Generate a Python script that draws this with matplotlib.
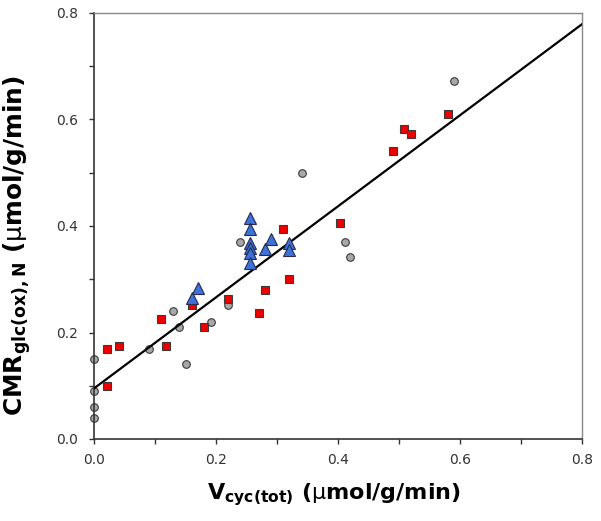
import matplotlib
matplotlib.use("Agg")
import matplotlib.pyplot as plt

plt.rcParams['font.family'] = ['DejaVu Sans']
plt.rcParams['mathtext.fontset'] = 'dejavusans'

# Gray circles
circ_x = [0.0, 0.0, 0.0, 0.0, 0.090, 0.130, 0.139, 0.150, 0.191, 0.220, 0.240, 0.341, 0.411, 0.420, 0.590]
circ_y = [0.151, 0.090, 0.060, 0.039, 0.169, 0.240, 0.211, 0.140, 0.220, 0.252, 0.370, 0.500, 0.370, 0.341, 0.672]

# Red squares
sq_x = [0.021, 0.021, 0.041, 0.110, 0.118, 0.160, 0.180, 0.220, 0.270, 0.281, 0.310, 0.320, 0.403, 0.490, 0.508, 0.520, 0.581]
sq_y = [0.169, 0.100, 0.175, 0.225, 0.175, 0.251, 0.211, 0.262, 0.236, 0.280, 0.395, 0.301, 0.405, 0.541, 0.582, 0.572, 0.610]

# Blue triangles
tri_x = [0.256, 0.256, 0.256, 0.256, 0.256, 0.256, 0.280, 0.290, 0.320, 0.320, 0.160, 0.170]
tri_y = [0.415, 0.394, 0.368, 0.359, 0.350, 0.331, 0.356, 0.376, 0.369, 0.354, 0.265, 0.283]

# Regression line endpoints
line_x = [0.0, 0.8]
line_y = [0.095, 0.779]

tick_vals = [0.0, 0.2, 0.4, 0.6, 0.8]
tick_labels = ['0.0', '0.2', '0.4', '0.6', '0.8']
minor_vals = [0.1, 0.3, 0.5, 0.7]

fig = plt.figure(figsize=(6.01, 5.21), dpi=100)
ax = fig.add_axes([94/601, 82/521, 488/601, 426/521])

ax.plot(circ_x, circ_y, 'o', ms=5.5, mfc='#a8a8a8', mec='#3a3a3a', mew=0.8, zorder=2, clip_on=False)
ax.plot(line_x, line_y, '-', color='black', lw=1.6, zorder=3)
ax.plot(sq_x, sq_y, 's', ms=6.2, mfc='#ee0000', mec='#3a3a3a', mew=0.8, zorder=4, clip_on=False)
ax.plot(tri_x, tri_y, '^', ms=8.5, mfc='#3b72dc', mec='#2a2a4a', mew=0.8, zorder=5, clip_on=False)

ax.set_xlim(0, 0.8)
ax.set_ylim(0, 0.8)
ax.set_xticks(tick_vals)
ax.set_yticks(tick_vals)
ax.set_xticklabels(tick_labels)
ax.set_yticklabels(tick_labels)
ax.set_xticks(minor_vals, minor=True)
ax.set_yticks(minor_vals, minor=True)
ax.tick_params(which='both', direction='out', length=3.8, width=1, color='#333333',
               labelsize=10, labelcolor='#333333')
ax.tick_params(axis='x', which='both', pad=6.5)
ax.tick_params(axis='y', which='both', pad=7.5)

for s in ['left', 'bottom']:
    ax.spines[s].set_color('#333333')
    ax.spines[s].set_linewidth(1.2)
for s in ['top', 'right']:
    ax.spines[s].set_color('#888888')
    ax.spines[s].set_linewidth(1.0)

ax.set_xlabel(r'$\mathbf{V_{cyc(tot)}}$ ($\mathrm{\mu}$mol/g/min)', fontsize=16, fontweight='bold')
ax.set_ylabel(r'$\mathbf{CMR_{glc(ox),N}}$ ($\mathrm{\mu}$mol/g/min)', fontsize=17.8, fontweight='bold')
ax.xaxis.set_label_coords(0.491, -0.098)
ax.yaxis.set_label_coords(-0.125, 0.455)

fig.savefig('out.png', dpi=100)
